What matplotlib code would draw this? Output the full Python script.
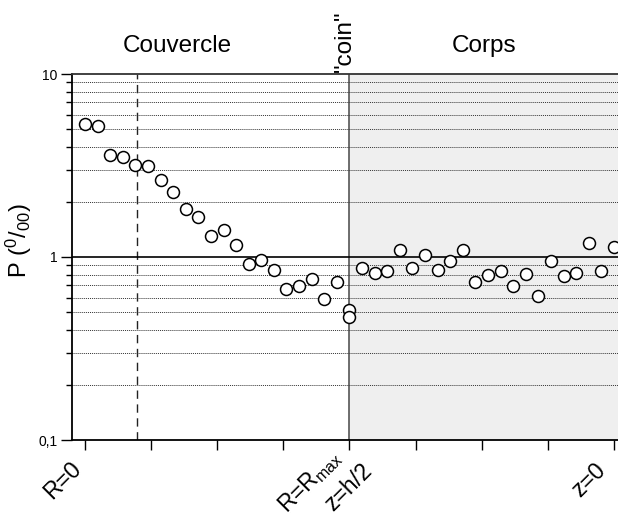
import numpy as np
import matplotlib
matplotlib.use('Agg')
import matplotlib.pyplot as plt
import matplotlib.transforms as mtransforms
from matplotlib.ticker import LogLocator, FixedLocator, NullFormatter

plt.rcParams['font.family'] = ['Liberation Sans', 'DejaVu Sans']
plt.rcParams['mathtext.fontset'] = 'custom'
plt.rcParams['mathtext.rm'] = 'Liberation Sans'
plt.rcParams['mathtext.it'] = 'Liberation Sans'
plt.rcParams['mathtext.default'] = 'regular'

# position index along the wall (0 = R=0, 21 = corner, 42 = z=0)
pos = list(range(0, 22)) + [21] + list(range(22, 43))
# P values (per mil)
p_vals = [5.35, 5.20, 3.59, 3.51, 3.17, 3.14, 2.65, 2.26, 1.82, 1.65, 1.31,
          1.40, 1.16, 0.916, 0.963, 0.852, 0.670, 0.696, 0.760, 0.591, 0.732,
          0.512, 0.471,
          0.871, 0.813, 0.834, 1.09, 0.871, 1.03, 0.852, 0.946, 1.09, 0.732,
          0.793, 0.841, 0.694, 0.803, 0.611, 0.954, 0.783, 0.813, 1.19, 0.834,
          1.14]

tick_pos = [i * 5.25 for i in range(9)]
# (x, text, offset right px, offset down px) for the slanted axis labels
x_labels = [(0, 'R=0', -2.5, 30),
            (21, 'R=R$_{max}$', -7, 18),
            (21, 'z=h/2', 24, 32),
            (42, 'z=0', -7, 31)]
corner = 21
dash_x = 4.1

fig = plt.figure(figsize=(6.18, 5.18), dpi=100)
ax = fig.add_axes([71.5 / 618, 78 / 518, 1 - 71.5 / 618, 366 / 518])

ax.axvspan(corner, 50, color='#efefef', zorder=0, lw=0)
ax.axvline(corner, color='#555555', lw=1.2, zorder=1)
ax.axvline(dash_x, color='#222222', lw=1.0, ls=(0, (6, 4)), zorder=1)

ax.set_yscale('log')
ax.set_ylim(0.1, 10)
ax.set_xlim(-1.07, 42.32)

ax.yaxis.set_major_locator(FixedLocator([0.1, 1, 10]))
ax.yaxis.set_minor_locator(LogLocator(base=10, subs=np.arange(2, 10)))
ax.yaxis.set_minor_formatter(NullFormatter())
ax.set_yticklabels(['0,1', '1', '10'], fontsize=10)
ax.yaxis.grid(True, which='minor', linestyle=(0, (1, 1)), color='#333333', lw=0.7)
ax.axhline(1, color='black', lw=1.2, zorder=1)

ax.plot(pos, p_vals, 'o', mfc='white', mec='black', ms=8.6, mew=1.1, zorder=3, clip_on=False)

ax.set_xticks(tick_pos)
ax.tick_params(axis='x', direction='out', length=7, width=1, labelbottom=False)
ax.tick_params(axis='y', which='major', direction='out', length=8, width=1, pad=2)
ax.tick_params(axis='y', which='minor', direction='out', length=4, width=1)

for x, txt, dx, dy in x_labels:
    off = mtransforms.ScaledTranslation(dx / 100, -dy / 100, fig.dpi_scale_trans)
    ax.text(x, 0, txt, transform=ax.get_xaxis_transform() + off,
            rotation=45, rotation_mode='anchor', ha='right', va='baseline',
            fontsize=16.5)

ax.spines['right'].set_visible(False)
for s in ['left', 'bottom', 'top']:
    ax.spines[s].set_linewidth(1.3)
ax.spines['top'].set_color('#333333')

ax.set_ylabel('P ($^{0}$/$_{00}$)', fontsize=17)
ax.yaxis.set_label_coords(-0.069, 0.545)

fig.text(177 / 618, 1 - 46 / 518, 'Couvercle', ha='center', va='center', fontsize=17.5)
fig.text(484 / 618, 1 - 46 / 518, 'Corps', ha='center', va='center', fontsize=17.5)
fig.text(345 / 618, 1 - 41 / 518, '"coin"', ha='center', va='center', fontsize=17.5, rotation=90)

fig.savefig('out.png', dpi=100)
